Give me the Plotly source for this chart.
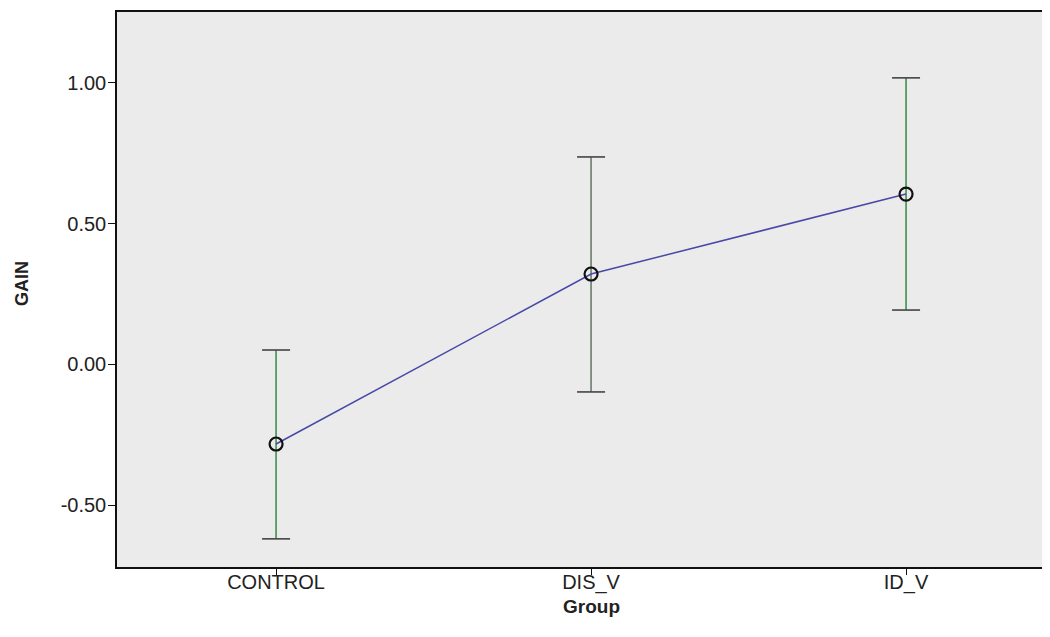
import plotly.graph_objects as go

groups = ["CONTROL", "DIS_V", "ID_V"]
means = [-0.283, 0.321, 0.605]
upper = [0.051, 0.737, 1.018]
lower = [-0.620, -0.098, 0.193]
bar_colors = ["#3f8f4f", "#6a7e6c", "#3f8f4f"]
y_ticks = [-0.5, 0.0, 0.5, 1.0]
y_tick_labels = ["-0.50", "0.00", "0.50", "1.00"]

xpos = list(range(len(groups)))
fig = go.Figure()

for i, g in enumerate(groups):
    fig.add_trace(go.Scatter(
        x=[xpos[i]], y=[means[i]], mode="markers",
        marker=dict(size=1, color="rgba(0,0,0,0)"),
        error_y=dict(type="data", symmetric=False,
                     array=[upper[i] - means[i]],
                     arrayminus=[means[i] - lower[i]],
                     color=bar_colors[i], thickness=1.6, width=0),
        showlegend=False, hoverinfo="skip"))

# caps
fig.add_trace(go.Scatter(
    x=xpos + xpos, y=upper + lower, mode="markers",
    marker=dict(symbol="line-ew-open", size=20, color="#444444",
                line=dict(color="#444444", width=1.6)),
    showlegend=False, hoverinfo="skip"))

# mean line
fig.add_trace(go.Scatter(
    x=xpos, y=means, mode="lines",
    line=dict(color="#4848a8", width=1.5),
    showlegend=False))

fig.add_trace(go.Scatter(
    x=xpos, y=means, mode="markers",
    marker=dict(symbol="circle-open", size=13, color="#111111",
                line=dict(color="#111111", width=2.2)),
    showlegend=False))

fig.update_layout(
    width=1042, height=629,
    margin=dict(l=109, r=0, t=4, b=70),
    paper_bgcolor="white", plot_bgcolor="#ebebeb",
    font=dict(family="Liberation Sans, Arial, sans-serif", color="#222222"),
    xaxis=dict(range=[-0.505, 2.457], tickvals=xpos, ticktext=groups,
               showgrid=False, zeroline=False, automargin=False,
               showline=True, linecolor="#111111", linewidth=1.5, mirror=True,
               ticks="outside", ticklen=6, tickcolor="#111111",
               ticklabelstandoff=-10,
               tickfont=dict(size=20)),
    yaxis=dict(range=[-0.720, 1.252], tickvals=y_ticks, ticktext=y_tick_labels,
               showgrid=False, zeroline=False, automargin=False,
               showline=True, linecolor="#111111", linewidth=1.5,
               ticks="outside", ticklen=7, tickcolor="#111111",
               ticklabelstandoff=-2,
               tickfont=dict(size=20)),
    annotations=[
        dict(text="<b>Group</b>", xref="paper", yref="paper",
             x=0.5085, y=-0.0703, xanchor="center", yanchor="middle",
             showarrow=False, font=dict(size=19, color="#222222")),
        dict(text="<b>GAIN</b>", xref="paper", yref="paper",
             x=-0.1018, y=0.51, xanchor="center", yanchor="middle",
             textangle=-90, showarrow=False,
             font=dict(size=18, color="#222222")),
    ],
)

fig.write_html("out.html")
